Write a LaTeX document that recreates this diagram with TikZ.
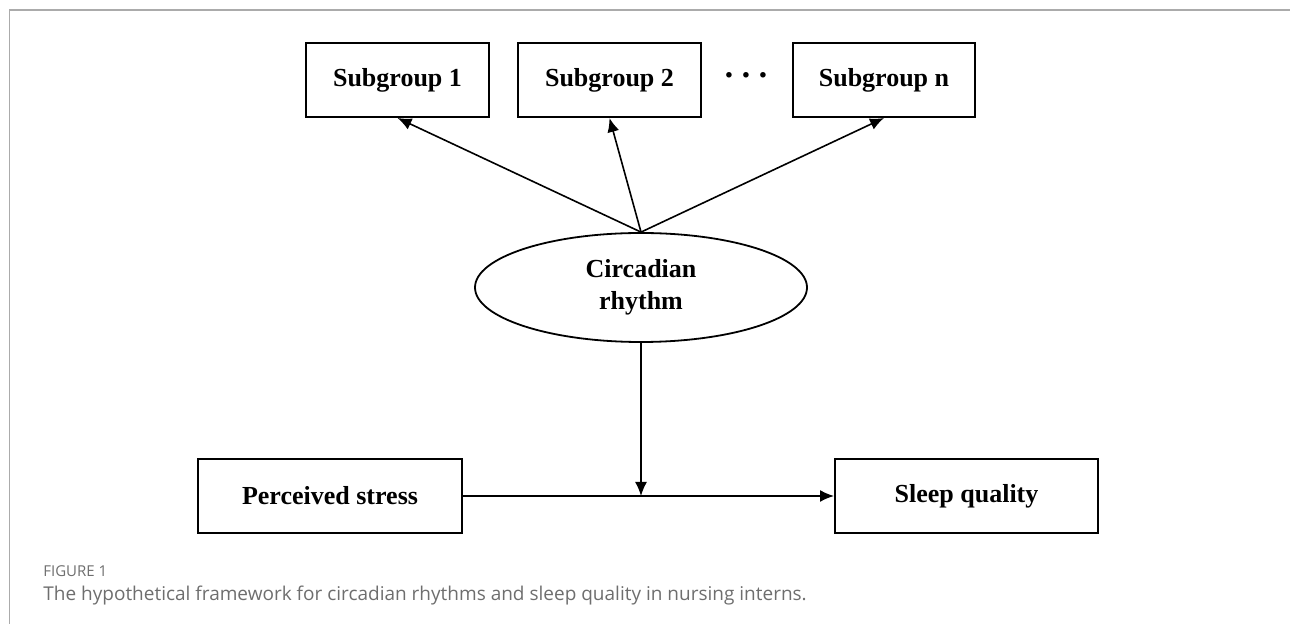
\documentclass[tikz,border=0pt]{standalone}
\usepackage{fontspec}
\setmainfont{Liberation Serif}
\newfontfamily\capfont{Open Sans}
\usepackage{xcolor}
\usepackage{tikz}
\usetikzlibrary{shapes.geometric,arrows.meta}
\definecolor{framegray}{HTML}{ABABAB}
\definecolor{capgray}{HTML}{6E6E6E}

\begin{document}
\begin{tikzpicture}[x=0.5pt, y=-0.5pt, >={Latex[length=7pt,width=6pt]},
		every node/.style={align=center, font=\fontsize{13}{16}\selectfont\bfseries},
		box/.style={draw, line width=1pt, minimum height=37pt, inner sep=0pt},
		oval/.style={draw, ellipse, line width=0.9pt, minimum width=166pt, minimum height=54.5pt, inner sep=0pt},
		captext/.style={font=\capfont\fontsize{9.5}{11}\selectfont, text=capgray, inner sep=0pt, anchor=base west}]
				\useasboundingbox (0,0) rectangle (1290,624);
				\draw[framegray, line width=0.75pt] (1290,10) -- (9.5,10) -- (9.5,624);
				
				\node (sub1) at (397.5,80) [box, minimum width=91.5pt] {Subgroup 1};
				\node (sub2) at (609.5,80) [box, minimum width=91.5pt] {Subgroup 2};
				\node (dots) at (746,80) [font=\fontsize{17}{17}\selectfont\bfseries] {·\,·\,·};
				\node (subn) at (884,80) [box, minimum width=91pt] {Subgroup n};
				\node (circ) at (641,287.5) [oval] {Circadian\\rhythm};
				\node (stress) at (330,496) [box, minimum width=132pt] {Perceived stress};
				\node (sleep) at (966.5,496) [box, minimum width=131.5pt] {Sleep quality};
				\coordinate (join) at (circ.south |- stress.east);
				
				\draw[->, thick] (circ.north) -- (sub1.south);
				\draw[->, thick] (circ.north) -- (sub2.south);
				\draw[->, thick] (circ.north) -- (subn.south);
				\draw[->, thick] (circ.south) -- (join);
				\draw[->, thick] (stress.east) -- (sleep.west);
				
				\node (figlabel) at (43,577) [captext, font=\capfont\fontsize{7.5}{9}\selectfont] {FIGURE 1};
				\node (caption) at (43,601) [captext] {The hypothetical framework for circadian rhythms and sleep quality in nursing interns.};
			\end{tikzpicture}
\end{document}
